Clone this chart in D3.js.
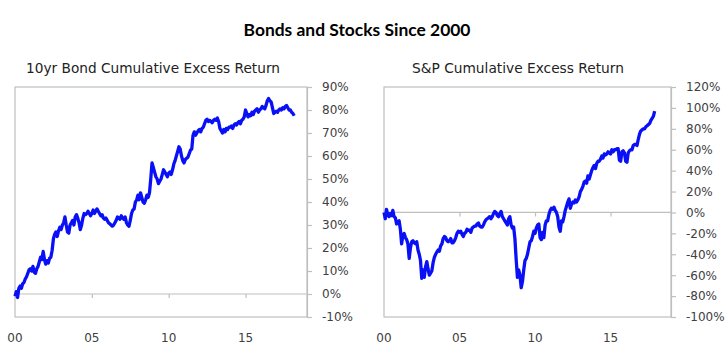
<!DOCTYPE html>
<html><head><meta charset="utf-8">
<script src="https://cdn.jsdelivr.net/npm/d3@7"></script>
<style>html,body{margin:0;padding:0;background:#fff;}svg{display:block;}</style>
</head><body>
<svg id="c" width="728" height="349"></svg>
<script>
// ---- data (monthly, starting Jan 2000), values in % ----
const title = "Bonds and Stocks Since 2000";
const bondTitle = "10yr Bond Cumulative Excess Return";
const spTitle = "S&P Cumulative Excess Return";
const xTickYears = [0, 5, 10, 15];
const xTickLabels = ["00", "05", "10", "15"];
const bondTicks = [-10, 0, 10, 20, 30, 40, 50, 60, 70, 80, 90];
const spTicks = [-100, -80, -60, -40, -20, 0, 20, 40, 60, 80, 100, 120];

const bondValues = [
  -1, 1, -1.5, 2.5, 3.5, 2.5, 4.5, 5, 6.5, 7.5, 9, 10.5,
  11, 10, 12, 9.5, 9, 11, 12, 14, 16, 15, 18.5, 15,
  13, 14.5, 13.5, 15.5, 16, 19, 24, 26, 27, 25, 27.5, 29,
  28, 30, 31, 33.5, 30, 27, 26.5, 30, 31, 32, 30, 33.5,
  34.5, 33, 31, 28, 30, 33, 35, 34.5, 35, 36, 35, 34,
  35, 36.5, 35, 36, 37, 36, 35, 34, 34.5, 33, 32.5, 33,
  32, 31, 30.5, 30, 29.5, 30, 31, 32, 33.5, 33, 32.5, 34,
  33, 32.5, 33.5, 31, 30, 29.5, 32, 35, 36.5, 37, 40, 41,
  43, 41, 44, 42, 40, 39.5, 41, 43, 42, 44, 50, 57,
  55, 53, 51, 50, 48, 49, 50, 52, 54, 53, 52, 51,
  52.5, 53, 52, 54, 56.5, 58, 60, 62, 64, 63, 60, 58,
  57, 58.5, 59, 59.5, 61, 62.5, 63, 69, 70.5, 69, 70, 71,
  71.5, 70.5, 72, 72.5, 74, 75.5, 76, 75, 75.5, 75, 74.5, 75.5,
  76, 75.5, 76.5, 75, 72, 71, 70, 71.5, 70.5, 72, 71.5, 72.5,
  72.5, 73, 72, 73.5, 74, 73.5, 74.5, 75, 74, 75.5, 76, 77,
  80, 78.5, 77, 78, 77.5, 79, 78, 79.5, 80, 80.5, 79, 80,
  80.5, 81.5, 81, 80.5, 82, 84, 85, 84, 83.5, 81, 78.5, 79,
  79.5, 79, 80, 80.5, 80, 81, 80.5, 81.5, 82, 81, 80, 80,
  79, 78.5, 77.5
];

const spValues = [
  0, -6, 3, -2, -4, -1, -3, 2, -4, -5, -11, -9,
  -8, -16, -30, -22, -20, -24, -26, -30, -44, -34, -28, -27,
  -29, -30, -28, -36, -40, -46, -63, -55, -62, -52, -47, -54,
  -60, -58, -56, -48, -43, -40, -38, -36, -37, -32, -30, -25,
  -23, -24, -27, -28, -27, -25, -29, -29, -27, -24, -20, -18,
  -19, -18, -21, -23, -20, -19, -16, -17, -17, -19, -15, -14,
  -13, -13, -11, -10, -13, -14, -14, -12, -9, -7, -6, -5,
  -4, -6, -4, -1, 1, 0, -3, -4, -1, 1, -4, -6,
  -8, -10, -12, -6, -4, -12, -15, -14, -25, -45, -62, -55,
  -60, -72, -66, -55, -46, -44, -40, -34, -28, -27, -23, -18,
  -20, -15, -12, -11, -24, -26, -19, -24, -12, -8, -8, -2,
  2, 4, 3, 5, 2, 0, -4, -14, -18, -8, -9, -4,
  2, 6, 10, 13, 4, 8, 10, 9, 12, 10, 12, 15,
  20, 22, 25, 29, 30, 28, 35, 32, 36, 40, 43, 45,
  42, 47, 49, 49, 51, 54, 52, 56, 55, 56, 58, 57,
  56, 60, 58, 60, 60, 61, 61, 50, 49, 58, 59, 57,
  49, 48, 57, 59, 60, 60, 64, 65, 65, 64, 70, 75,
  78, 79, 80, 80, 82, 83, 84, 85, 88, 90, 92, 97
];

// ---- drawing ----
const svg = d3.select("#c");
svg.append("rect").attr("width", 728).attr("height", 349).attr("fill", "#fff");

const axisColor = "#bfbfbf";
const labelColor = "#404040";
const lineColor = "#0a10f5";

function fitText(sel, targetWidth) {
  const node = sel.node();
  const w = node.getComputedTextLength();
  const fs = parseFloat(sel.attr("font-size"));
  sel.attr("font-size", (fs * targetWidth / w).toFixed(2));
}

const t = svg.append("text").attr("x", 357).attr("y", 36)
  .attr("text-anchor", "middle").attr("font-family", "Lato, 'Open Sans', sans-serif")
  .attr("font-weight", "bold").attr("font-size", 18).attr("fill", "#000").text(title);
fitText(t, 227);

function panel(cfg) {
  const g = svg.append("g");
  const x = d3.scaleLinear().domain([0, 19]).range([cfg.left, cfg.right]);
  const y = d3.scaleLinear().domain(cfg.yDomain).range([cfg.bottom, cfg.top]);

  // subtitle
  const st = g.append("text").attr("x", cfg.titleX).attr("y", 73)
    .attr("text-anchor", "middle").attr("font-family", "'DejaVu Sans', Verdana, sans-serif")
    .attr("font-size", 14).attr("fill", "#222").text(cfg.title);
  fitText(st, cfg.titleW);

  // plot box
  g.append("rect").attr("x", cfg.left).attr("y", cfg.top)
    .attr("width", cfg.right - cfg.left).attr("height", cfg.bottom - cfg.top)
    .attr("fill", "none").attr("stroke", axisColor).attr("stroke-width", 1.2);

  // right y axis
  const yAxis = d3.axisRight(y).tickValues(cfg.yTicks).tickSize(5).tickPadding(10)
    .tickFormat(d => d + "%");
  const ya = g.append("g").attr("transform", `translate(${cfg.right},0)`).call(yAxis);
  ya.select(".domain").attr("stroke", axisColor).attr("stroke-width", 1.2);
  ya.selectAll(".tick line").attr("stroke", axisColor).attr("stroke-width", 1.2);
  ya.selectAll(".tick text").attr("fill", labelColor)
    .attr("font-family", "'DejaVu Sans', Verdana, sans-serif").attr("font-size", 12);

  // x axis at zero line
  const xAxis = d3.axisBottom(x).tickValues(xTickYears).tickSize(4).tickFormat("");
  const xa = g.append("g").attr("transform", `translate(0,${y(0)})`).call(xAxis);
  xa.select(".domain").attr("stroke", axisColor).attr("stroke-width", 1.2)
    .attr("d", `M${cfg.left},0H${cfg.right}`);
  xa.selectAll(".tick line").attr("stroke", axisColor).attr("stroke-width", 1.2);

  // x labels at bottom
  g.selectAll(".xl").data(xTickYears).join("text").attr("class", "xl")
    .attr("x", d => x(d)).attr("y", 342).attr("text-anchor", "middle")
    .attr("font-family", "'DejaVu Sans', Verdana, sans-serif").attr("font-size", 12)
    .attr("fill", labelColor).text((d, i) => xTickLabels[i]);

  // series
  const line = d3.line().x((d, i) => x(i / 12)).y(d => y(d)).curve(d3.curveLinear);
  g.append("path").datum(cfg.values).attr("d", line).attr("fill", "none")
    .attr("stroke", lineColor).attr("stroke-width", 3.3).attr("stroke-linejoin", "round");
}

panel({ left: 15, right: 307, top: 87, bottom: 317, yDomain: [-10, 90], yTicks: bondTicks,
        values: bondValues, title: bondTitle, titleX: 153, titleW: 254 });
panel({ left: 384, right: 671, top: 87, bottom: 317, yDomain: [-100, 120], yTicks: spTicks,
        values: spValues, title: spTitle, titleX: 518, titleW: 212 });
</script>
</body></html>
